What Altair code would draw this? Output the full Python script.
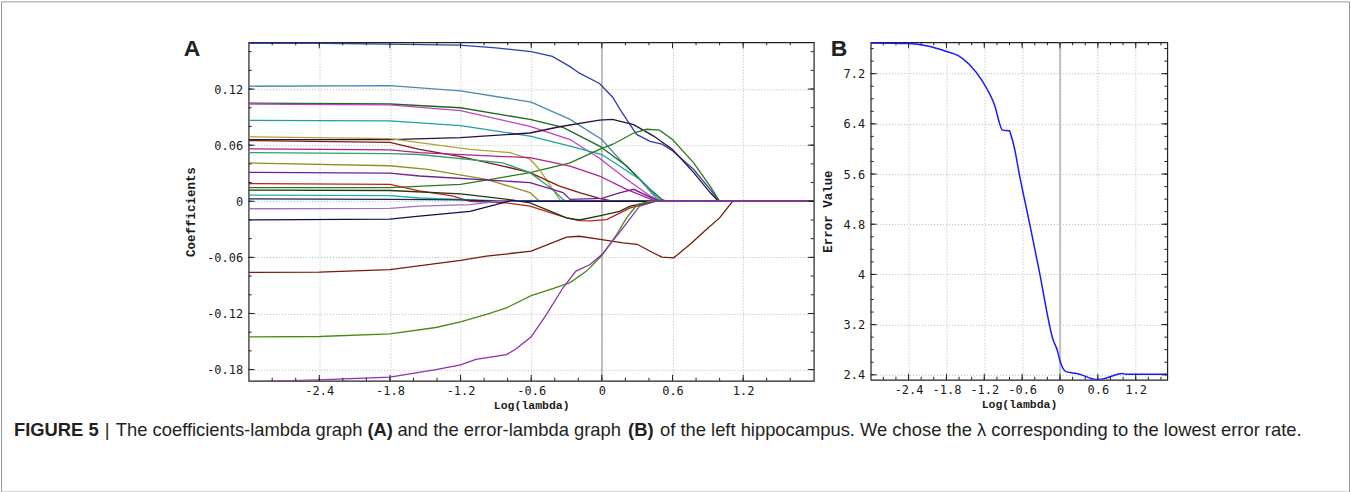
import altair as alt
import pandas as pd

# ---------------- Panel A: coefficient paths (log lambda, coefficient) ----------------
path_names = ["blue", "steel", "dgreen", "magenta", "teal", "dpurple", "green", "oliveY",
              "dred", "dmagenta", "seagreen", "olive", "purple", "red", "blkgreen",
              "teal2", "navy", "lpurple", "navy2", "brown", "lgreen", "violet"]
path_colors = ["#3040a8", "#4a8aaa", "#1a6a1a", "#c040c0", "#20a0a0", "#2a1040", "#2a7a1a", "#a8a830",
               "#8a1515", "#b02090", "#30a070", "#909020", "#702090", "#c02020", "#203a10",
               "#20b0a0", "#202060", "#a070c0", "#101050", "#7a1a08", "#4a8a10", "#9030b0"]

p_blue = [(-3.0, 0.169), (-2.4, 0.169), (-1.8, 0.168), (-1.21, 0.167), (-0.9, 0.164), (-0.6, 0.160),
          (-0.42, 0.155), (-0.27, 0.144), (-0.19, 0.137), (-0.02, 0.126), (0.094, 0.111), (0.15, 0.099),
          (0.21, 0.0875), (0.295, 0.0715), (0.41, 0.064), (0.51, 0.061), (0.60, 0.054), (0.78, 0.034),
          (0.92, 0.0128), (1.0, 0.0), (1.8, 0.0)]
p_steel = [(-3.0, 0.123), (-1.8, 0.1236), (-1.2, 0.118), (-0.6, 0.106), (-0.27, 0.0875), (0.0, 0.066),
           (0.15, 0.045), (0.32, 0.0235), (0.47, 0.002), (0.52, 0.0), (1.8, 0.0)]
p_dgreen = [(-3.0, 0.105), (-1.8, 0.104), (-1.2, 0.100), (-0.61, 0.0875), (-0.33, 0.079), (-0.02, 0.059),
            (0.21, 0.0377), (0.41, 0.0128), (0.51, 0.002), (0.55, 0.0), (1.8, 0.0)]
p_magenta = [(-3.0, 0.104), (-1.8, 0.103), (-1.2, 0.097), (-0.61, 0.080), (-0.27, 0.066), (-0.02, 0.046),
             (0.21, 0.0235), (0.41, 0.0057), (0.49, 0.0), (1.8, 0.0)]
p_teal = [(-3.0, 0.0865), (-1.8, 0.086), (-1.2, 0.081), (-0.61, 0.0697), (-0.27, 0.059), (0.0, 0.050),
          (0.15, 0.0377), (0.32, 0.0235), (0.49, 0.002), (0.52, 0.0), (1.8, 0.0)]
p_dpurple = [(-3.0, 0.066), (-1.8, 0.066), (-1.2, 0.068), (-0.61, 0.073), (-0.36, 0.0797), (-0.02, 0.0868),
             (0.09, 0.0875), (0.27, 0.082), (0.44, 0.0697), (0.60, 0.0555), (0.78, 0.0306), (0.92, 0.0093),
             (0.99, 0.0), (1.8, 0.0)]
p_green = [(-3.0, 0.0145), (-1.8, 0.0145), (-1.2, 0.018), (-0.61, 0.0306), (-0.27, 0.041), (-0.02, 0.0555),
           (0.094, 0.061), (0.27, 0.073), (0.38, 0.077), (0.49, 0.076), (0.60, 0.066), (0.78, 0.041),
           (0.92, 0.016), (1.0, 0.0), (1.8, 0.0)]
p_oliveY = [(-3.0, 0.069), (-1.8, 0.067), (-1.55, 0.0626), (-1.12, 0.0555), (-0.78, 0.052), (-0.61, 0.045),
            (-0.53, 0.034), (-0.36, 0.002), (-0.34, 0.0), (1.8, 0.0)]
p_dred = [(-3.0, 0.065), (-1.8, 0.063), (-1.55, 0.0555), (-1.21, 0.048), (-0.84, 0.0377), (-0.61, 0.0306),
          (-0.36, 0.0163), (-0.19, 0.0093), (-0.02, 0.003), (0.1, 0.0), (1.8, 0.0)]
p_dmagenta = [(-3.0, 0.056), (-1.8, 0.055), (-1.55, 0.052), (-0.61, 0.0466), (-0.27, 0.0377), (-0.02, 0.027),
              (0.21, 0.0128), (0.44, 0.001), (0.46, 0.0), (1.8, 0.0)]
p_seagreen = [(-3.0, 0.052), (-1.8, 0.051), (-1.55, 0.050), (-0.84, 0.041), (-0.61, 0.0306), (-0.42, 0.0128),
              (-0.33, 0.002), (-0.3, 0.0), (1.8, 0.0)]
p_olive = [(-3.0, 0.041), (-1.8, 0.038), (-1.48, 0.034), (-0.98, 0.0235), (-0.61, 0.0093), (-0.53, 0.0),
           (1.8, 0.0)]
p_purple = [(-3.0, 0.031), (-1.8, 0.030), (-1.55, 0.027), (-0.61, 0.020), (-0.33, 0.0093), (-0.27, 0.002),
            (0.0, 0.003), (0.15, 0.009), (0.27, 0.0128), (0.45, 0.002), (0.5, 0.0), (1.8, 0.0)]
p_red = [(-3.0, 0.019), (-1.8, 0.018), (-1.55, 0.011), (-1.27, 0.0057), (-1.12, 0.0), (-0.81, -0.0018),
         (-0.61, -0.0053), (-0.30, -0.0178), (-0.19, -0.0206), (-0.1, -0.021), (0.04, -0.0196),
         (0.07, -0.0178), (0.24, -0.0071), (0.41, -0.0018), (0.45, 0.0), (1.8, 0.0)]
p_blkgreen = [(-3.0, 0.012), (-1.8, 0.0115), (-1.2, 0.008), (-0.8, 0.002), (-0.61, -0.0018), (-0.30, -0.0178),
              (-0.19, -0.020), (0.0, -0.015), (0.15, -0.0107), (0.24, -0.0053), (0.45, 0.0), (1.8, 0.0)]
p_teal2 = [(-3.0, 0.0065), (-1.8, 0.006), (-1.55, 0.0035), (-0.8, 0.0), (1.8, 0.0)]
p_navy = [(-3.0, 0.0025), (-1.8, 0.002), (-1.2, 0.0015), (-0.9, 0.0), (1.8, 0.0)]
p_lpurple = [(-3.0, -0.008), (-1.8, -0.0075), (-1.55, -0.0053), (-1.12, -0.0036), (-0.88, 0.0), (1.8, 0.0)]
p_navy2 = [(-3.0, -0.020), (-1.8, -0.019), (-1.55, -0.016), (-1.12, -0.0107), (-0.9, -0.0036), (-0.8, 0.0),
           (-0.75, 0.001), (-0.7, 0.0), (1.8, 0.0)]
p_brown = [(-3.0, -0.076), (-2.4, -0.0757), (-1.8, -0.073), (-1.2, -0.0633), (-0.98, -0.0587), (-0.6, -0.0534),
           (-0.3, -0.0384), (-0.19, -0.0374), (0.0, -0.041), (0.18, -0.0445), (0.30, -0.046), (0.41, -0.0534),
           (0.51, -0.0598), (0.61, -0.0605), (0.75, -0.046), (0.89, -0.030), (1.0, -0.0178), (1.10, -0.0018),
           (1.11, 0.0), (1.8, 0.0)]
p_lgreen = [(-3.0, -0.145), (-2.4, -0.1446), (-1.8, -0.1418), (-1.41, -0.135), (-1.2, -0.129), (-0.98, -0.121),
            (-0.81, -0.114), (-0.6, -0.101), (-0.41, -0.0932), (-0.27, -0.087), (-0.13, -0.0747), (0.0, -0.058),
            (0.125, -0.0356), (0.21, -0.0178), (0.30, -0.0036), (0.41, 0.0), (1.8, 0.0)]
p_violet = [(-3.0, -0.193), (-2.4, -0.191), (-1.8, -0.188), (-1.41, -0.180), (-1.2, -0.175), (-1.07, -0.169),
            (-0.81, -0.164), (-0.73, -0.158), (-0.6, -0.145), (-0.47, -0.121), (-0.33, -0.0925), (-0.22, -0.0747),
            (-0.1, -0.0676), (0.0, -0.057), (0.18, -0.0285), (0.32, -0.0053), (0.45, 0.0), (1.8, 0.0)]

paths = [p_blue, p_steel, p_dgreen, p_magenta, p_teal, p_dpurple, p_green, p_oliveY, p_dred, p_dmagenta,
         p_seagreen, p_olive, p_purple, p_red, p_blkgreen, p_teal2, p_navy, p_lpurple, p_navy2, p_brown,
         p_lgreen, p_violet]

# ---------------- Panel B: error curve ----------------
err_x = [-3.0, -2.4, -2.1, -1.82, -1.6, -1.44, -1.23, -1.04, -0.91, -0.80, -0.78, -0.724, -0.645, -0.49,
         -0.33, -0.17, -0.12, -0.04, 0.0, 0.05, 0.095, 0.20, 0.31, 0.57, 0.62, 0.99, 1.04, 1.70]
err_y = [7.69, 7.68, 7.64, 7.56, 7.48, 7.35, 7.08, 6.71, 6.30, 6.29, 6.23, 6.02, 5.60, 4.85,
         4.06, 3.21, 2.99, 2.78, 2.62, 2.50, 2.45, 2.43, 2.41, 2.325, 2.325, 2.42, 2.41, 2.41]

# tick labels
xticks = [-2.4, -1.8, -1.2, -0.6, 0, 0.6, 1.2]
yticksA = [-0.18, -0.12, -0.06, 0, 0.06, 0.12]
yticksB = [2.4, 3.2, 4, 4.8, 5.6, 6.4, 7.2]

caption_parts = ["FIGURE 5", "|", "The coefficients-lambda graph", "(A)", "and the error-lambda graph", "(B)",
                 "of the left hippocampus. We chose the \u03bb corresponding to the lowest error rate."]

# ---------------- build ----------------
rows = []
for name, pts in zip(path_names, paths):
    for i, (x, y) in enumerate(pts):
        rows.append({"name": name, "ord": i, "x": x, "y": y})
dfA = pd.DataFrame(rows)
dfB = pd.DataFrame({"x": err_x, "y": err_y, "ord": list(range(len(err_x)))})

WA, HA = 566, 339
WB, HB = 297, 338

LABEL_FONT = "DejaVu Sans Mono"
TITLE_FONT = "Liberation Mono"


def ax(values, title, lp, tp, tsize):
    return alt.Axis(values=values, title=title, grid=True, gridColor="#b8b8b8", gridDash=[1, 2],
                    gridWidth=1, ticks=False, domain=False, labelFont=LABEL_FONT, labelFontSize=12,
                    labelColor="#1a1a1a", titleFont=TITLE_FONT, titleFontSize=tsize, titleFontWeight="bold",
                    titleColor="#1a1a1a", labelExpr="toString(datum.value)", labelPadding=lp,
                    titlePadding=tp, labelFlush=False)


def minor_vals(lo, hi, step, nd):
    out = []
    k = 0
    while True:
        v = round(lo + k * step, nd)
        if v > hi + 1e-9:
            break
        out.append(v)
        k += 1
    return out


def inner_ticks(X, Y, W, H, xmin, xmaj, ymin, ymaj):
    layers = []
    for vals, ln in ((xmin, 3), (xmaj, 6)):
        d = pd.DataFrame({"x": vals})
        layers.append(alt.Chart(d).mark_rule(color="#222", strokeWidth=1).encode(
            x=X, y=alt.value(H), y2=alt.value(H - ln)))
        layers.append(alt.Chart(d).mark_rule(color="#222", strokeWidth=1).encode(
            x=X, y=alt.value(0), y2=alt.value(ln)))
    for vals, ln in ((ymin, 3), (ymaj, 6)):
        d = pd.DataFrame({"y": vals})
        layers.append(alt.Chart(d).mark_rule(color="#222", strokeWidth=1).encode(
            y=Y, x=alt.value(0), x2=alt.value(ln)))
        layers.append(alt.Chart(d).mark_rule(color="#222", strokeWidth=1).encode(
            y=Y, x=alt.value(W), x2=alt.value(W - ln)))
    return layers


# Panel A
sxA = alt.Scale(domain=[-3.0, 1.8], nice=False, zero=False)
syA = alt.Scale(domain=[-0.192, 0.170], nice=False, zero=False)
XA = alt.X("x:Q", scale=sxA, axis=ax(xticks, "Log(lambda)", 5, 3, 11.5))
YA = alt.Y("y:Q", scale=syA, axis=ax(yticksA, "Coefficients", 6, 9, 12.5))

zeroA = alt.Chart(pd.DataFrame({"x": [0]})).mark_rule(color="#b0b0b0", strokeWidth=1.5).encode(x=XA)
linesA = alt.Chart(dfA).mark_line(strokeWidth=1.3, clip=True).encode(
    x=XA, y=YA,
    color=alt.Color("name:N", scale=alt.Scale(domain=path_names, range=path_colors), legend=None),
    order=alt.Order("ord:Q"))

ticksA = inner_ticks(XA, YA, WA, HA,
                     minor_vals(-2.8, 1.6, 0.2, 1), xticks,
                     minor_vals(-0.18, 0.16, 0.02, 2), yticksA)

labelA = alt.Chart(alt.Data(values=[{"t": "A"}])).mark_text(
    font="Liberation Sans", fontSize=23, fontWeight="bold", align="left", baseline="alphabetic",
    color="#222222").encode(x=alt.value(-65), y=alt.value(14), text="t:N")

# caption (segment start positions in pixels relative to panel A's plot origin)
cap_x = [-235, -144, -133, 119, 149, 380, 412]
cap_bold = [True, False, False, True, False, True, False]
cap_layers = []
for txt, cx, b in zip(caption_parts, cap_x, cap_bold):
    cap_layers.append(alt.Chart(alt.Data(values=[{"t": txt}])).mark_text(
        font="Liberation Sans", fontSize=18.4, fontWeight="bold" if b else "normal", align="left",
        baseline="alphabetic", color="#231f20").encode(x=alt.value(cx), y=alt.value(394), text="t:N"))

border = alt.Chart(alt.Data(values=[{"a": 1}])).mark_rect(fill=None, stroke="#9a9a9a", strokeWidth=1).encode(
    x=alt.value(-247.5), x2=alt.value(1102.5), y=alt.value(-40.5), y2=alt.value(450.5))

panelA = alt.layer(zeroA, linesA, *ticksA, labelA, *cap_layers, border).properties(width=WA, height=HA)

# Panel B
sxB = alt.Scale(domain=[-3.0, 1.7], nice=False, zero=False)
syB = alt.Scale(domain=[2.32, 7.7], nice=False, zero=False)
XB = alt.X("x:Q", scale=sxB, axis=ax(xticks, "Log(lambda)", 5, 3, 11.5))
YB = alt.Y("y:Q", scale=syB, axis=ax(yticksB, "Error Value", 6, 9, 12.5))

zeroB = alt.Chart(pd.DataFrame({"x": [0]})).mark_rule(color="#b0b0b0", strokeWidth=1.5).encode(x=XB)
lineB = alt.Chart(dfB).mark_line(strokeWidth=1.5, color="#1a1aff", clip=True, interpolate="monotone").encode(
    x=XB, y=YB, order=alt.Order("ord:Q"))
ticksB = inner_ticks(XB, YB, WB, HB,
                     minor_vals(-2.8, 1.6, 0.2, 1), xticks,
                     minor_vals(2.4, 7.6, 0.2, 1), yticksB)
labelB = alt.Chart(alt.Data(values=[{"t": "B"}])).mark_text(
    font="Liberation Sans", fontSize=23, fontWeight="bold", align="left", baseline="alphabetic",
    color="#222222").encode(x=alt.value(-40), y=alt.value(14), text="t:N")

panelB = alt.layer(zeroB, lineB, *ticksB, labelB).properties(width=WB, height=HB)

chart = alt.hconcat(panelA, panelB, spacing=57, bounds="flush").properties(
    padding=0, background="#ffffff"
).configure_view(stroke="#222222", strokeWidth=1.2)

chart.save("out.html", embed_options={"renderer": "svg", "actions": False})
